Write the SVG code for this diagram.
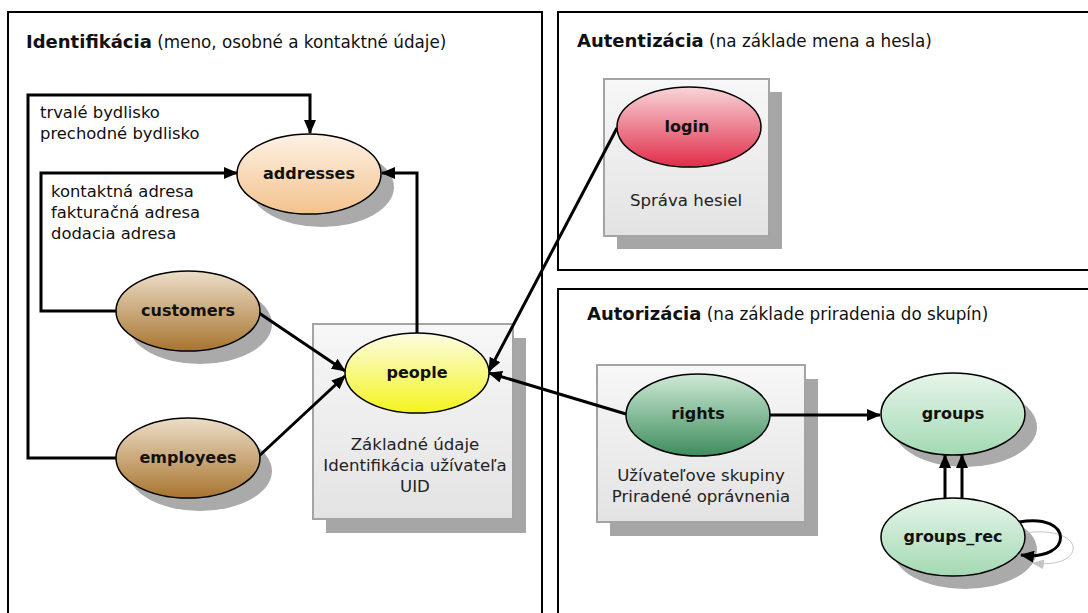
<svg xmlns="http://www.w3.org/2000/svg" width="1088" height="613" viewBox="0 0 1088 613">
<defs>
<style>
text{font-family:"DejaVu Sans","Liberation Sans",sans-serif;fill:#111}
.panel{fill:#fff;stroke:#000;stroke-width:2}
.title{font-size:18px;font-weight:bold}
.sub{font-size:16.8px;font-weight:normal}
.lbl{font-size:16.4px}
.name{font-size:16px;font-weight:bold;text-anchor:middle}
.boxtxt{font-size:16.6px;text-anchor:middle;fill:#222}
.box{fill:url(#gBox);stroke:#a4a4a4;stroke-width:2}
.bshadow{fill:#a6a6a6}
.eshadow{fill:#aaaaaa}
.node{stroke:#000;stroke-width:1.5}
.conn{fill:none;stroke:#000;stroke-width:3}
</style>
<linearGradient id="gBox" x1="0" y1="0" x2="0" y2="1"><stop offset="0" stop-color="#f7f7f7"/><stop offset="1" stop-color="#e3e3e3"/></linearGradient>
<linearGradient id="gPeach" x1="0" y1="0" x2="0" y2="1"><stop offset="0" stop-color="#fdf2e6"/><stop offset="1" stop-color="#f3c28c"/></linearGradient>
<linearGradient id="gBrown" x1="0" y1="0" x2="0" y2="1"><stop offset="0" stop-color="#ecdec8"/><stop offset="1" stop-color="#a8742f"/></linearGradient>
<linearGradient id="gYellow" x1="0" y1="0" x2="0" y2="1"><stop offset="0" stop-color="#fdfde4"/><stop offset="1" stop-color="#f3f31e"/></linearGradient>
<linearGradient id="gRed" x1="0" y1="0" x2="0" y2="1"><stop offset="0" stop-color="#f8d5d9"/><stop offset="1" stop-color="#e12d49"/></linearGradient>
<linearGradient id="gDkGreen" x1="0" y1="0" x2="0" y2="1"><stop offset="0" stop-color="#cfe9d6"/><stop offset="1" stop-color="#3d8d5d"/></linearGradient>
<linearGradient id="gLtGreen" x1="0" y1="0" x2="0" y2="1"><stop offset="0" stop-color="#e6f5ea"/><stop offset="1" stop-color="#a3d9b3"/></linearGradient>
<marker id="arr" viewBox="0 0 14 12" markerWidth="14" markerHeight="12" refX="13" refY="6" orient="auto" markerUnits="userSpaceOnUse"><path d="M0,0 L14,6 L0,12 z" fill="#000"/></marker>
<marker id="arrGray" viewBox="0 0 14 12" markerWidth="12" markerHeight="10" refX="13" refY="6" orient="auto" markerUnits="userSpaceOnUse"><path d="M0,0 L14,6 L0,12 z" fill="#c4c4c4"/></marker>
</defs>

<rect x="0" y="0" width="1088" height="613" fill="#fff"/>

<g id="panel-identifikacia">
<rect class="panel" x="8" y="12" width="534" height="620"/>
<text x="26" y="48"><tspan class="title">Identifikácia</tspan><tspan class="sub"> (meno, osobné a kontaktné údaje)</tspan></text>
</g>
<g id="panel-autentizacia">
<rect class="panel" x="558" y="12" width="545" height="258"/>
<text x="577" y="47"><tspan class="title">Autentizácia</tspan><tspan class="sub"> (na základe mena a hesla)</tspan></text>
</g>
<g id="panel-autorizacia">
<rect class="panel" x="558" y="289" width="545" height="345"/>
<text x="587" y="320"><tspan class="title">Autorizácia</tspan><tspan class="sub"> (na základe priradenia do skupín)</tspan></text>
</g>

<g id="box-login">
<rect class="bshadow" x="617" y="92" width="165" height="157"/>
<rect class="box" x="604" y="79" width="165" height="157"/>
<text class="boxtxt" x="686" y="206">Správa hesiel</text>
</g>
<g id="box-people">
<rect class="bshadow" x="326" y="338" width="200" height="195"/>
<rect class="box" x="313" y="324" width="200" height="195"/>
<text class="boxtxt" x="415" y="450">Základné údaje</text>
<text class="boxtxt" x="415" y="471">Identifikácia užívateľa</text>
<text class="boxtxt" x="415" y="492">UID</text>
</g>
<g id="box-rights">
<rect class="bshadow" x="610" y="379" width="208" height="157"/>
<rect class="box" x="597" y="365" width="208" height="157"/>
<text class="boxtxt" x="701" y="481">Užívateľove skupiny</text>
<text class="boxtxt" x="701" y="502">Priradené oprávnenia</text>
</g>

<g id="shadows">
<ellipse class="eshadow" cx="322" cy="187" rx="72" ry="40"/>
<ellipse class="eshadow" cx="200" cy="324" rx="72" ry="40"/>
<ellipse class="eshadow" cx="200" cy="471" rx="72" ry="40"/>
<ellipse class="eshadow" cx="965" cy="427" rx="72" ry="40"/>
<ellipse class="eshadow" cx="965" cy="550" rx="72" ry="39"/>
</g>

<g id="labels">
<text class="lbl" x="40" y="118">trvalé bydlisko</text>
<text class="lbl" x="40" y="139">prechodné bydlisko</text>
<text class="lbl" x="51" y="197">kontaktná adresa</text>
<text class="lbl" x="51" y="218">fakturačná adresa</text>
<text class="lbl" x="51" y="239">dodacia adresa</text>
</g>

<g id="connectors">
<path class="conn" d="M116,458 H28 V95 H310 V133" marker-end="url(#arr)"/>
<path class="conn" d="M116,311 H41 V173 H237" marker-end="url(#arr)"/>
<path class="conn" d="M417,333 V173 H382" marker-end="url(#arr)"/>
<path class="conn" d="M259,313 L345,371" marker-end="url(#arr)"/>
<path class="conn" d="M259,456 L345,376" marker-end="url(#arr)"/>
<path class="conn" d="M617,128 L489,371" marker-end="url(#arr)"/>
<path class="conn" d="M626,414 L489,373" marker-end="url(#arr)"/>
<path class="conn" d="M770,415 H880" marker-end="url(#arr)"/>
<path class="conn" d="M945,498 V455" marker-end="url(#arr)"/>
<path class="conn" d="M962,498 V455" marker-end="url(#arr)"/>
<path d="M1024,533 C1088,524 1088,570 1033,563" fill="none" stroke="#c4c4c4" stroke-width="1" marker-end="url(#arrGray)"/>
<path class="conn" d="M1019,522 C1074,512 1074,562 1021,555" marker-end="url(#arr)"/>
</g>

<g id="node-addresses">
<ellipse class="node" cx="309" cy="174" rx="72" ry="40" fill="url(#gPeach)"/>
<text class="name" x="309" y="179">addresses</text>
</g>
<g id="node-customers">
<ellipse class="node" cx="188" cy="311" rx="72" ry="40" fill="url(#gBrown)"/>
<text class="name" x="188" y="316">customers</text>
</g>
<g id="node-employees">
<ellipse class="node" cx="188" cy="458" rx="72" ry="40" fill="url(#gBrown)"/>
<text class="name" x="188" y="463">employees</text>
</g>
<g id="node-people">
<ellipse class="node" cx="417" cy="373" rx="72" ry="40" fill="url(#gYellow)"/>
<text class="name" x="417" y="378">people</text>
</g>
<g id="node-login">
<ellipse class="node" cx="689" cy="127" rx="72" ry="40" fill="url(#gRed)"/>
<text class="name" x="687" y="132">login</text>
</g>
<g id="node-rights">
<ellipse class="node" cx="698" cy="415" rx="72" ry="41" fill="url(#gDkGreen)"/>
<text class="name" x="698" y="419">rights</text>
</g>
<g id="node-groups">
<ellipse class="node" cx="953" cy="414" rx="72" ry="41" fill="url(#gLtGreen)"/>
<text class="name" x="953" y="419">groups</text>
</g>
<g id="node-groups_rec">
<ellipse class="node" cx="953" cy="537" rx="72" ry="39" fill="url(#gLtGreen)"/>
<text class="name" x="953" y="542">groups_rec</text>
</g>
</svg>
